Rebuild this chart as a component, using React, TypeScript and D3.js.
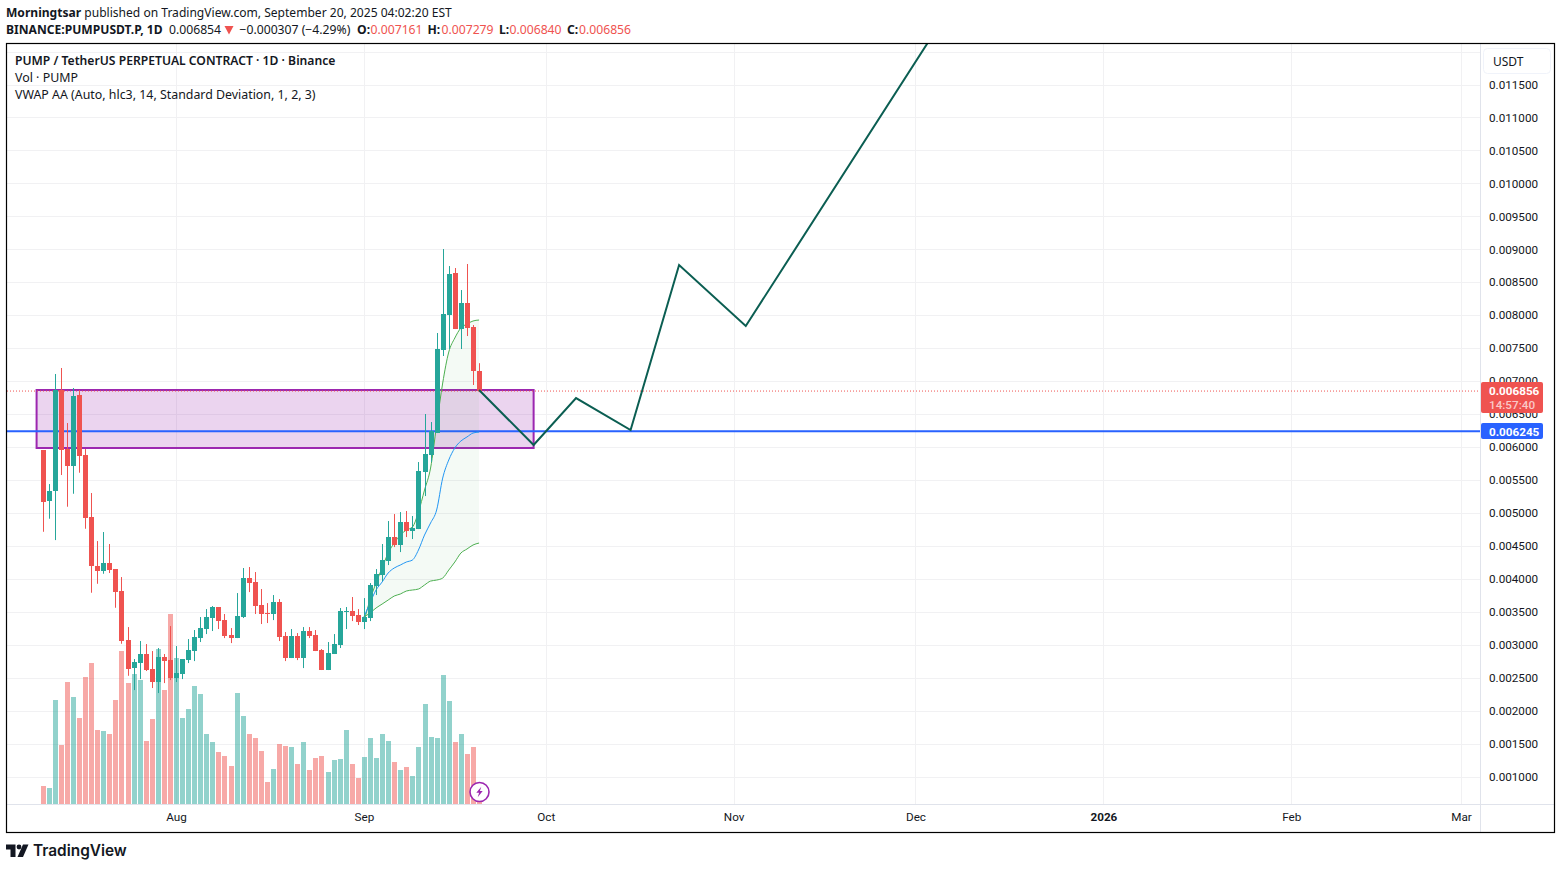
import React, { useEffect, useRef } from 'react';
import * as d3 from 'd3';

// all prices are in 1e-6 USDT
const firstDay = new Date(Date.UTC(2025, 6, 10));

const opens = [
  5961, 5192, 5344, 6872, 5976, 5723, 6796, 5885, 4945, 4201,
  4130, 4246, 4155, 3822, 3078, 2653, 2729, 2866, 2638, 2441,
  2820, 2774, 2501, 2562, 2774, 2911, 3108, 3245, 3412, 3579,
  3381, 3154, 3108, 3427, 4019, 3958, 3609, 3488, 3473, 3655,
  3139, 2805, 3139, 2805, 3215, 3154, 2926, 2623, 2866, 3002,
  3503, 3518, 3457, 3351, 3412, 3897, 4064, 4277, 4641, 4520,
  4869, 4732, 4762, 5627, 5885, 6219, 7479, 8010, 8647, 7797,
  8192, 7828, 7161,
];
const highs = [
  5961, 5445, 7115, 7206, 6371, 6902, 6872, 5976, 5309, 4580,
  4717, 4535, 4155, 4034, 3275, 2790, 3063, 3017, 2911, 2957,
  2866, 3290, 2987, 2790, 3093, 3230, 3427, 3548, 3594, 3579,
  3473, 3260, 3791, 4171, 4186, 4110, 3852, 3639, 3761, 3700,
  3199, 3245, 3184, 3275, 3275, 3230, 2941, 3048, 3169, 3564,
  3579, 3731, 3548, 3715, 3943, 4155, 4535, 4884, 4990, 5020,
  5036, 4960, 5779, 6508, 6386, 7737, 9011, 8753, 8723, 8389,
  8784, 7858, 7279,
];
const lows = [
  4721, 4919, 4595, 5582, 5101, 5298, 5617, 4767, 3796, 3932,
  4084, 4095, 3568, 3022, 2536, 2319, 2486, 2608, 2350, 2274,
  2425, 2471, 2441, 2486, 2729, 2759, 3048, 3169, 3215, 3245,
  3108, 3032, 3108, 3412, 3806, 3473, 3321, 3336, 3381, 3063,
  2759, 2805, 2774, 2653, 3108, 2911, 2623, 2623, 2866, 2957,
  3245, 3366, 3306, 3245, 3366, 3761, 3973, 4216, 4489, 4413,
  4641, 4611, 4762, 5263, 5779, 6219, 7388, 7494, 7797, 7494,
  7691, 6948, 6840,
];
const closes = [
  5176, 5339, 6872, 5966, 5723, 6781, 5875, 4934, 4206, 4130,
  4246, 4145, 3811, 3067, 2642, 2744, 2866, 2623, 2441, 2820,
  2759, 2501, 2577, 2790, 2926, 3124, 3260, 3427, 3579, 3371,
  3139, 3108, 3442, 4019, 3943, 3594, 3473, 3473, 3655, 3124,
  2805, 3139, 2805, 3215, 3139, 2911, 2623, 2881, 3017, 3518,
  3518, 3442, 3351, 3427, 3913, 4080, 4292, 4641, 4520, 4869,
  4732, 4778, 5643, 5901, 6250, 7494, 8025, 8632, 7797, 8192,
  7813, 7161, 6856,
];
// relative volume
const volumes = [
  18, 16, 104, 59, 122, 107, 86, 127, 141, 74,
  73, 70, 104, 153, 121, 130, 124, 63, 85, 155,
  114, 190, 146, 86, 95, 118, 110, 70, 62, 52,
  48, 38, 111, 88, 70, 66, 53, 22, 35, 60,
  58, 57, 40, 62, 34, 46, 48, 32, 44, 45,
  74, 40, 26, 47, 66, 46, 70, 63, 42, 34,
  37, 28, 57, 100, 67, 66, 129, 103, 62, 70,
  50, 57, 2,
];

// anchored vwap starts on candle 53
const vwapStart = 53;
const vwapUpper = [3351, 3685, 3943, 4171, 4398, 4550, 4671, 4747, 4793, 5020, 5354, 5688, 6341, 6978, 7448, 7661, 7813, 7873, 7919, 7934];
const vwapMid = [3427, 3639, 3837, 3958, 4095, 4171, 4216, 4262, 4292, 4444, 4671, 4854, 5051, 5536, 5810, 5992, 6098, 6159, 6219, 6234];
const vwapLower = [3427, 3488, 3564, 3624, 3685, 3746, 3776, 3822, 3837, 3852, 3913, 3973, 3988, 4019, 4140, 4262, 4398, 4459, 4520, 4550];

const forecastDates = [[2025, 8, 20], [2025, 8, 29], [2025, 9, 6], [2025, 9, 15], [2025, 9, 23], [2025, 10, 3], [2025, 11, 10]];
const forecastPrices = [6872, 6037, 6750, 6265, 8769, 7843, 13139];

const zoneDates = [[2025, 6, 9], [2025, 8, 29]];
const zonePrices = [6872, 5992];
const lastPrice = 6856;
const levelPrice = 6245;

const priceTicks = d3.range(1000, 12000, 500);
const gridPrices = d3.range(1000, 12500, 500);
const monthTicks = [[2025, 7], [2025, 8], [2025, 9], [2025, 10], [2025, 11], [2026, 0], [2026, 1], [2026, 2]];
const monthLabels = ['Aug', 'Sep', 'Oct', 'Nov', 'Dec', '2026', 'Feb', 'Mar'];

const ohlcKeys = ['O:', 'H:', 'L:', 'C:'];
const ohlcValues = ['0.007161', '0.007279', '0.006840', '0.006856'];
const ohlcKeyX = [357, 427.5, 499, 567];
const ohlcValueX = [370.5, 441.5, 509.5, 579];

const UP = '#26a69a';
const DOWN = '#ef5350';
const FONT = '"Noto Sans", sans-serif';
const AXIS_FONT = 'Roboto, sans-serif';
const AXIS_SIZE = 11.7;
const TEXT = '#131722';

const utc = (d: number[]) => new Date(Date.UTC(d[0], d[1], d[2] ?? 1));

const App: React.FC = () => {
  const svgRef = useRef<SVGSVGElement>(null);

  useEffect(() => {
    if (!svgRef.current) return;
    const svg = d3.select(svgRef.current);
    svg.selectAll('*').remove();

    const paneLeft = 7, paneRight = 1480, paneTop = 44, paneBottom = 832, volBase = 804;

    const x = d3.scaleUtc().domain([utc([2025, 7, 1]), utc([2026, 2, 1])]).range([176, 1461]);
    const y = d3.scaleLinear().domain([1000, 11500]).range([777, 85]);
    const yVol = d3.scaleLinear().domain([0, 190]).range([volBase, 614]);
    const days = opens.map((_, i) => d3.utcDay.offset(firstDay, i));
    const cx = (i: number) => Math.round(x(days[i]));

    const defs = svg.append('defs');
    defs.append('clipPath').attr('id', 'pane')
      .append('rect').attr('x', paneLeft).attr('y', paneTop)
      .attr('width', paneRight - paneLeft).attr('height', paneBottom - paneTop);

    svg.append('rect').attr('width', 1561).attr('height', 869).attr('fill', '#ffffff');

    // grid
    const grid = svg.append('g').attr('stroke', '#f1f1f3').attr('stroke-width', 1);
    gridPrices.forEach(p => {
      const py = Math.floor(y(p)) + 0.5;
      grid.append('line').attr('x1', paneLeft).attr('x2', paneRight).attr('y1', py).attr('y2', py);
    });
    monthTicks.forEach(m => {
      const px = Math.round(x(utc(m))) + 0.5;
      grid.append('line').attr('x1', px).attr('x2', px).attr('y1', paneTop).attr('y2', volBase);
    });

    const pane = svg.append('g').attr('clip-path', 'url(#pane)');

    // volume
    pane.append('g').selectAll('rect').data(volumes).join('rect')
      .attr('x', (_, i) => cx(i) - 2)
      .attr('width', 5)
      .attr('y', d => yVol(d))
      .attr('height', d => volBase - yVol(d))
      .attr('fill', (_, i) => (closes[i] >= opens[i] ? UP : DOWN))
      .attr('fill-opacity', 0.5);

    // zone
    const zx0 = x(utc(zoneDates[0])), zx1 = x(utc(zoneDates[1]));
    pane.append('rect')
      .attr('x', zx0).attr('width', zx1 - zx0)
      .attr('y', y(zonePrices[0])).attr('height', y(zonePrices[1]) - y(zonePrices[0]))
      .attr('fill', 'rgba(156,39,176,0.2)')
      .attr('stroke', '#9c27b0').attr('stroke-width', 2);

    // price lines
    pane.append('line').attr('x1', paneLeft).attr('x2', paneRight)
      .attr('y1', y(lastPrice)).attr('y2', y(lastPrice))
      .attr('stroke', DOWN).attr('stroke-width', 1).attr('stroke-dasharray', '1 2');
    pane.append('line').attr('x1', paneLeft).attr('x2', paneRight)
      .attr('y1', y(levelPrice)).attr('y2', y(levelPrice))
      .attr('stroke', '#2962ff').attr('stroke-width', 2);

    // vwap bands
    const vx = (i: number) => x(days[vwapStart + i]);
    const band = d3.area<number>()
      .x((_, i) => vx(i))
      .y0((_, i) => y(vwapLower[i]))
      .y1(d => y(d))
      .curve(d3.curveMonotoneX);
    pane.append('path').attr('d', band(vwapUpper))
      .attr('fill', 'rgba(76,175,80,0.06)');
    const vline = d3.line<number>().x((_, i) => vx(i)).y(d => y(d)).curve(d3.curveMonotoneX);
    pane.append('path').attr('d', vline(vwapUpper)).attr('fill', 'none').attr('stroke', '#4caf50').attr('stroke-width', 1);
    pane.append('path').attr('d', vline(vwapLower)).attr('fill', 'none').attr('stroke', '#4caf50').attr('stroke-width', 1);
    pane.append('path').attr('d', vline(vwapMid)).attr('fill', 'none').attr('stroke', '#2196f3').attr('stroke-width', 1);

    // candles
    const candles = pane.append('g');
    opens.forEach((o, i) => {
      const c = closes[i];
      const color = c >= o ? UP : DOWN;
      const top = Math.round(y(Math.max(o, c)));
      const bottom = Math.round(y(Math.min(o, c)));
      candles.append('rect').attr('x', cx(i)).attr('width', 1)
        .attr('y', y(highs[i])).attr('height', y(lows[i]) - y(highs[i])).attr('fill', color);
      candles.append('rect').attr('x', cx(i) - 2).attr('width', 5)
        .attr('y', top).attr('height', Math.max(1, bottom - top)).attr('fill', color);
    });

    // forecast path
    const forecast = d3.line<number>().x((_, i) => x(utc(forecastDates[i]))).y(d => y(d));
    pane.append('path').attr('d', forecast(forecastPrices))
      .attr('fill', 'none').attr('stroke', '#0b5e52').attr('stroke-width', 2);

    // bolt marker
    const bolt = svg.append('g').attr('transform', `translate(${cx(72) + 0.5},792)`);
    bolt.append('circle').attr('r', 9.5).attr('fill', '#ffffff').attr('stroke', '#9c27b0').attr('stroke-width', 1.6);
    bolt.append('path').attr('d', 'M1.8,-5.2 L-3.2,0.8 L-0.4,0.8 L-1.8,5.2 L3.2,-1 L0.4,-1 Z').attr('fill', '#9c27b0');

    // axes
    svg.append('line').attr('x1', paneRight + 0.5).attr('x2', paneRight + 0.5)
      .attr('y1', paneTop).attr('y2', paneBottom).attr('stroke', '#e0e3eb');
    svg.append('line').attr('x1', paneLeft).attr('x2', 1555)
      .attr('y1', volBase + 0.5).attr('y2', volBase + 0.5).attr('stroke', '#e0e3eb');

    const priceAxis = d3.axisRight(y)
      .tickValues(priceTicks)
      .tickSize(0)
      .tickPadding(0)
      .tickFormat(d => (Number(d) / 1e6).toFixed(6));
    const priceG = svg.append('g').attr('transform', 'translate(1489,-0.5)').call(priceAxis);
    priceG.select('.domain').remove();
    priceG.selectAll('text')
      .attr('fill', TEXT).attr('font-family', AXIS_FONT).attr('font-size', AXIS_SIZE);

    const monthAxis = d3.axisBottom(x)
      .tickValues(monthTicks.map(utc))
      .tickSize(0)
      .tickPadding(0)
      .tickFormat((_, i) => monthLabels[i]);
    const monthG = svg.append('g').attr('transform', 'translate(0,813)').call(monthAxis);
    monthG.select('.domain').remove();
    monthG.selectAll('text')
      .attr('fill', TEXT).attr('font-family', AXIS_FONT).attr('font-size', AXIS_SIZE)
      .attr('font-weight', (_, i) => (monthLabels[i] === '2026' ? 700 : 400));

    // badges
    svg.append('rect').attr('x', 1481).attr('y', 382).attr('width', 62).attr('height', 31).attr('rx', 2).attr('fill', DOWN);
    svg.append('text').attr('x', 1489).attr('y', 395).attr('fill', '#ffffff').attr('font-family', AXIS_FONT).attr('font-size', AXIS_SIZE).attr('font-weight', 700)
      .text((lastPrice / 1e6).toFixed(6));
    svg.append('text').attr('x', 1489).attr('y', 409).attr('fill', '#ffffff').attr('fill-opacity', 0.7).attr('font-family', AXIS_FONT).attr('font-size', AXIS_SIZE).attr('font-weight', 500)
      .text('14:57:40');
    svg.append('rect').attr('x', 1481).attr('y', 423).attr('width', 62).attr('height', 16).attr('rx', 2).attr('fill', '#2962ff');
    svg.append('text').attr('x', 1489).attr('y', 436).attr('fill', '#ffffff').attr('font-family', AXIS_FONT).attr('font-size', AXIS_SIZE).attr('font-weight', 700)
      .text((levelPrice / 1e6).toFixed(6));

    // currency button
    svg.append('rect').attr('x', 1483.5).attr('y', 48.5).attr('width', 67).attr('height', 25).attr('rx', 4)
      .attr('fill', '#ffffff').attr('stroke', '#f0f3fa');
    svg.append('text').attr('x', 1493).attr('y', 66).attr('fill', TEXT).attr('font-family', FONT).attr('font-size', 12).text('USDT');

    // frame
    svg.append('rect').attr('x', 6.5).attr('y', 43.5).attr('width', 1548).attr('height', 789)
      .attr('fill', 'none').attr('stroke', '#000000').attr('stroke-width', 1.2);

    // header
    const header = svg.append('g').attr('font-family', FONT).attr('fill', TEXT);
    const line1 = header.append('text').attr('x', 6).attr('y', 17).attr('font-size', 12.07);
    line1.append('tspan').attr('font-weight', 700).text('Morningtsar');
    line1.append('tspan').text(' published on TradingView.com, September 20, 2025 04:02:20 EST');
    header.append('text').attr('x', 6).attr('y', 34).attr('font-size', 12.1).attr('font-weight', 700).text('BINANCE:PUMPUSDT.P, 1D');
    header.append('text').attr('x', 169).attr('y', 34).attr('font-size', 12.2).text('0.006854');
    header.append('path').attr('d', 'M224.5,26 H233.5 L229,34.5 Z').attr('fill', DOWN);
    header.append('text').attr('x', 239.5).attr('y', 34).attr('font-size', 12.2).text('−0.000307 (−4.29%)');
    ohlcKeys.forEach((k, i) => {
      header.append('text').attr('x', ohlcKeyX[i]).attr('y', 34).attr('font-size', 12.2).attr('font-weight', 700).text(k);
      header.append('text').attr('x', ohlcValueX[i]).attr('y', 34).attr('font-size', 12.2).attr('fill', DOWN).text(ohlcValues[i]);
    });

    const legend = svg.append('g').attr('font-family', FONT).attr('fill', TEXT);
    legend.append('text').attr('x', 15).attr('y', 65).attr('font-size', 12.16).attr('font-weight', 600).text('PUMP / TetherUS PERPETUAL CONTRACT · 1D · Binance');
    legend.append('text').attr('x', 15).attr('y', 82).attr('font-size', 12.4).text('Vol · PUMP');
    legend.append('text').attr('x', 15).attr('y', 99).attr('font-size', 12.38).text('VWAP AA (Auto, hlc3, 14, Standard Deviation, 1, 2, 3)');

    // logo
    const logo = svg.append('g').attr('fill', '#131722');
    logo.append('path').attr('d', 'M6,844.5 H15.5 V857 H10.5 V849.5 H6 Z');
    logo.append('circle').attr('cx', 19).attr('cy', 847).attr('r', 2.4);
    logo.append('path').attr('d', 'M23,844.5 H28.5 L23,857 H17.5 Z');
    svg.append('text').attr('x', 33).attr('y', 856).attr('font-family', 'Inter, sans-serif')
      .attr('font-size', 15.4).attr('font-weight', 600).attr('fill', '#131722').text('TradingView');
  }, []);

  return <svg ref={svgRef} width={1561} height={869} style={{ position: 'absolute', left: 0, top: 0, display: 'block' }} />;
};

export default App;
